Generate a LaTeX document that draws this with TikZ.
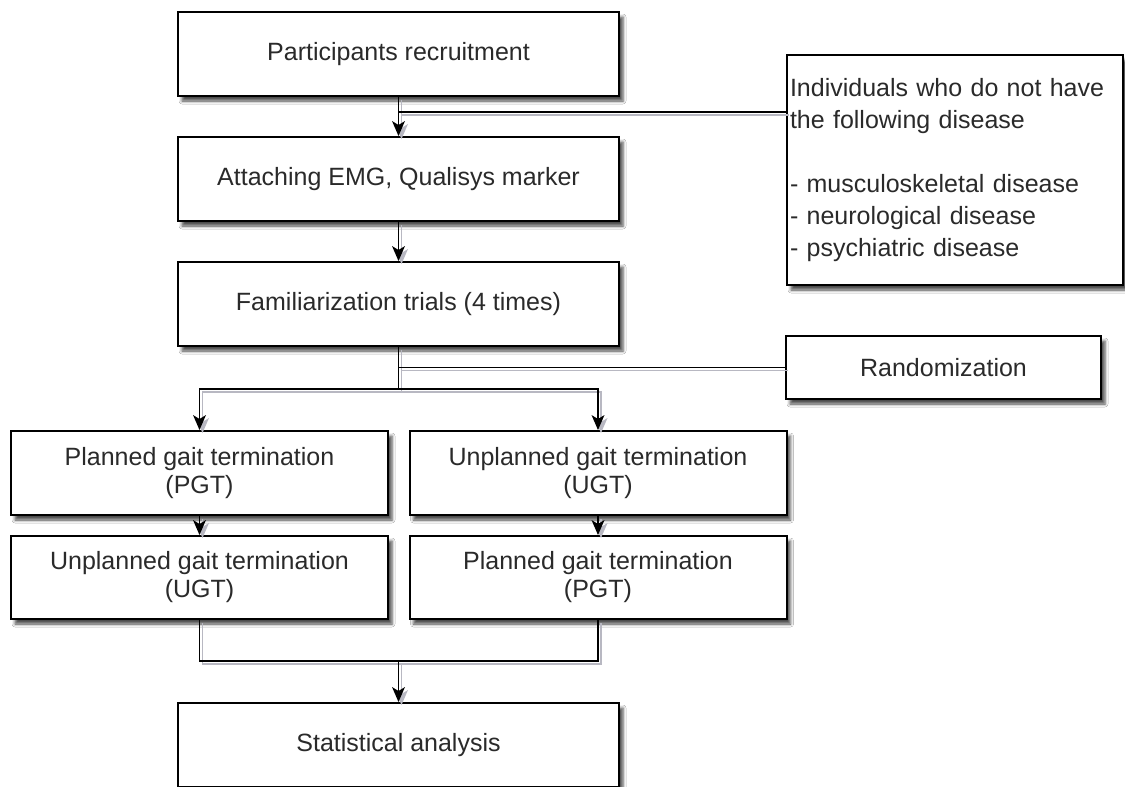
\documentclass[tikz,border=0pt]{standalone}
\usepackage{fontspec}
\setmainfont{Liberation Sans}
\usetikzlibrary{shadows.blur}
\definecolor{txt}{HTML}{2A2A2A}
\definecolor{lshadow}{HTML}{B8B8C2}
\tikzset{
  box/.style={draw=black, line width=2pt, fill=white, inner sep=0pt, text=txt,
    font=\fontsize{25}{28}\selectfont, align=center,
    blur shadow={shadow xshift=4pt, shadow yshift=-5pt, shadow blur radius=3pt, shadow opacity=70}},
  wide/.style={minimum width=441pt, minimum height=84pt},
  half/.style={minimum width=377pt, minimum height=84pt},
  conn/.style={line width=1.8pt},
  arr/.style={conn, shorten >=9pt},
}
% downward arrowhead whose tip sits on the given anchor
\newcommand{\tipdown}[2]{\fill[#2] (#1) -- ++(-6.5,-15) -- ++(6.5,4) -- ++(6.5,-4) -- cycle;}
\newcommand{\drawconns}[1]{%
  \draw[arr,draw=#1] (P.south) -- (A.north); \tipdown{A.north}{#1}
  \draw[conn,draw=#1] (I.west |- j1) -- (j1);
  \draw[arr,draw=#1] (A.south) -- (F.north); \tipdown{F.north}{#1}
  \draw[conn,draw=#1] (F.south) -- (j2);
  \draw[arr,draw=#1] (j2) -| (L1.north); \tipdown{L1.north}{#1}
  \draw[arr,draw=#1] (j2) -| (R1.north); \tipdown{R1.north}{#1}
  \draw[conn,draw=#1] (Rd.west) -- (Rd.west -| F.south);
  \draw[arr,draw=#1] (L1.south) -- (L2.north); \tipdown{L2.north}{#1}
  \draw[arr,draw=#1] (R1.south) -- (R2.north); \tipdown{R2.north}{#1}
  \draw[conn,draw=#1] (L2.south) |- (j3) -| (R2.south);
  \draw[arr,draw=#1] (j3) -- (S.north); \tipdown{S.north}{#1}
}
\begin{document}
\begin{tikzpicture}[x=1pt,y=-1pt]
\useasboundingbox (0,0) rectangle (1125,787);
\fill[white] (0,0) rectangle (1125,787);
\node[box, wide] (P) at (398.5,54) {Participants recruitment};
\node[box, wide] (A) at (398.5,179) {Attaching EMG, Qualisys marker};
\node[box, wide] (F) at (398.5,304) {Familiarization trials (4 times)};
\node[box, anchor=north west, minimum width=336pt, minimum height=230pt,
  text width=330pt, inner xsep=3pt, align=left, font=\fontsize{25}{32}\selectfont] (I) at (786,54)
  {\makebox[330pt][s]{Individuals who do not have}\\
   the following disease\\[32pt]
   - musculoskeletal disease\\
   - neurological disease\\
   - psychiatric disease};
\node[box, minimum width=315pt, minimum height=63pt] (Rd) at (943.5,367.5) {Randomization};
\node[box, half] (L1) at (199.5,473) {Planned gait termination\\(PGT)};
\node[box, half] (R1) at (598,473) {Unplanned gait termination\\(UGT)};
\node[box, half, minimum height=83pt] (L2) at (199.5,577.5) {Unplanned gait termination\\(UGT)};
\node[box, half, minimum height=83pt] (R2) at (598,577.5) {Planned gait termination\\(PGT)};
\node[box, wide] (S) at (398.5,745) {Statistical analysis};
\coordinate (j1) at (398.5,112);
\coordinate (j2) at (398.5,389);
\coordinate (j3) at (398.5,661);
\begin{scope}[transform canvas={shift={(3pt,-3pt)}}]
\drawconns{lshadow}
\end{scope}
\drawconns{black}
\end{tikzpicture}
\end{document}
